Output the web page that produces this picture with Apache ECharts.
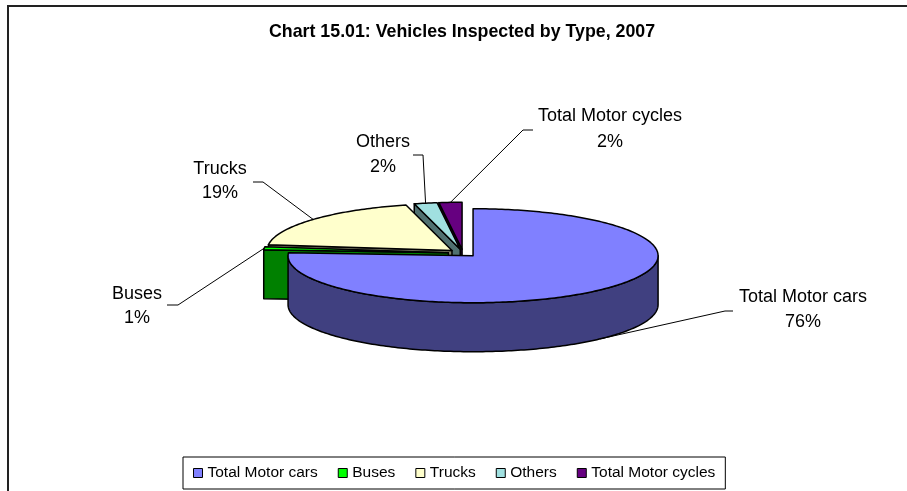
<!DOCTYPE html>
<html>
<head>
<meta charset="utf-8">
<script src="https://cdn.jsdelivr.net/npm/echarts@6/dist/echarts.min.js"></script>
<style>
html,body{margin:0;padding:0;background:#fff;}
#chart{width:907px;height:491px;}
</style>
</head>
<body>
<div id="chart"></div>
<script>
// ---- data ----
const CATEGORIES = ['Total Motor cars', 'Buses', 'Trucks', 'Others', 'Total Motor cycles'];
const VALUES = [76, 1, 19, 2, 2];
const TITLE = 'Chart 15.01: Vehicles Inspected by Type, 2007';

// ---- styles / layout ----
const TOP_COLORS = ['#8080FF', '#00FF00', '#FFFFCC', '#A0E0E0', '#660080'];
const SIDE_COLORS = ['#404080', '#008000', '#808066', '#507070', '#330040'];
const FONT = '"Liberation Sans", Arial, sans-serif';
const PIE = { cx: 463, cy: 253, rx: 185, ry: 47, depth: 49, explode: 14.7 };
const LABEL_LAYOUT = [
  { end: [733, 311], elbow: [725, 311], tx: 803, ty: [297, 322], h: 1 },
  { end: [167, 305], elbow: [178, 305], tx: 137, ty: [294, 318], h: 0 },
  { end: [253, 182], elbow: [263, 182], tx: 220, ty: [169, 193], h: 0 },
  { end: [413, 155], elbow: [423, 155], tx: 383, ty: [142, 167], h: 0 },
  { end: [533, 130], elbow: [523, 130], tx: 610, ty: [116, 142], h: 0 }
];

// ---- geometry derived from values ----
const total = VALUES.reduce((a, b) => a + b, 0);
const slices = [];
let acc = 0;
VALUES.forEach((v, i) => {
  const a0 = acc / total * 360;
  acc += v;
  const a1 = acc / total * 360;
  const mid = (a0 + a1) / 2;
  const rad = mid * Math.PI / 180;
  slices.push({
    a0, a1, mid,
    ox: PIE.explode * Math.sin(rad),
    oy: -PIE.explode * (PIE.ry / PIE.rx) * Math.cos(rad)
  });
});
function pt(i, deg, r, h) {
  const s = slices[i], t = deg * Math.PI / 180;
  return [PIE.cx + s.ox + r * PIE.rx * Math.sin(t),
          PIE.cy + s.oy - r * PIE.ry * Math.cos(t) + h * PIE.depth];
}
function arc(i, from, to, h) {
  const pts = [];
  const n = Math.max(2, Math.ceil(Math.abs(to - from)));
  for (let k = 0; k <= n; k++) pts.push(pt(i, from + (to - from) * k / n, 1, h));
  return pts;
}
function cosd(d) { return Math.cos(d * Math.PI / 180); }

function renderSlice(params, api) {
  const i = params.seriesIndex;
  const s = slices[i];
  const children = [];
  const stroke = { stroke: '#000', lineWidth: 1.5, lineJoin: 'round' };
  // radial cut faces that face the viewer
  [[s.a0, s.a0 - 90], [s.a1, s.a1 + 90]].forEach(([a, n]) => {
    if (cosd(n) < -0.01) {
      children.push({
        type: 'polygon', z2: 1,
        shape: { points: [pt(i, a, 0, 0), pt(i, a, 1, 0), pt(i, a, 1, 1), pt(i, a, 0, 1)] },
        style: Object.assign({ fill: SIDE_COLORS[i] }, stroke)
      });
    }
  });
  // outer front wall
  const lo = Math.max(s.a0, 90), hi = Math.min(s.a1, 270);
  if (hi > lo) {
    const pts = arc(i, lo, hi, 0).concat(arc(i, hi, lo, 1));
    children.push({
      type: 'polygon', z2: 2, shape: { points: pts },
      style: Object.assign({ fill: SIDE_COLORS[i] }, stroke)
    });
  }
  // top face
  children.push({
    type: 'polygon', z2: 3,
    shape: { points: [pt(i, s.a0, 0, 0)].concat(arc(i, s.a0, s.a1, 0)) },
    style: Object.assign({ fill: TOP_COLORS[i] }, stroke)
  });
  return { type: 'group', children };
}

function renderLabel(params, api) {
  const i = params.dataIndex;
  const L = LABEL_LAYOUT[i];
  const anchor = pt(i, slices[i].mid, 1, L.h);
  const pct = Math.round(api.value(0) / total * 100) + '%';
  return {
    type: 'group',
    children: [
      { type: 'polyline', z2: 10, shape: { points: [L.end, L.elbow, anchor] },
        style: { stroke: '#000', lineWidth: 1, fill: 'none' } },
      { type: 'text', z2: 10, style: { text: CATEGORIES[i], x: L.tx, y: L.ty[0], fill: '#000',
        font: '18px ' + FONT, align: 'center', verticalAlign: 'middle' } },
      { type: 'text', z2: 10, style: { text: pct, x: L.tx, y: L.ty[1], fill: '#000',
        font: '18px ' + FONT, align: 'center', verticalAlign: 'middle' } }
    ]
  };
}

// painter order: back slices first
const depthRank = slices.map((s, i) => i).sort((a, b) => cosd(slices[b].mid) - cosd(slices[a].mid));
const series = CATEGORIES.map((name, i) => ({
  type: 'custom',
  name,
  coordinateSystem: 'none',
  renderItem: renderSlice,
  itemStyle: { color: TOP_COLORS[i] },
  z: 2 + depthRank.indexOf(i),
  silent: true,
  animation: false,
  data: [[VALUES[i]]]
}));
series.push({
  type: 'custom',
  name: 'labels',
  coordinateSystem: 'none',
  renderItem: renderLabel,
  z: 20,
  silent: true,
  animation: false,
  data: VALUES.map(v => [v])
});

const chart = echarts.init(document.getElementById('chart'), null, { renderer: 'canvas' });
chart.setOption({
  backgroundColor: '#fff',
  animation: false,
  title: {
    text: TITLE, left: 269, top: 23, padding: 0,
    textStyle: { fontFamily: FONT, fontSize: 17.8, fontWeight: 'bold', color: '#000' }
  },
  legend: {
    data: CATEGORIES.map((n, i) => ({ name: n, itemStyle: { color: TOP_COLORS[i], borderColor: '#000', borderWidth: 1 } })),
    left: 183, top: 457,
    icon: 'rect', itemWidth: 9, itemHeight: 9, itemGap: 20,
    padding: [6, 10, 6, 10],
    borderColor: '#000', borderWidth: 1,
    selectedMode: false,
    textStyle: { fontFamily: FONT, fontSize: 15.5, color: '#000', lineHeight: 20 }
  },
  graphic: [{
    type: 'polyline', silent: true,
    shape: { points: [[8, 491], [8, 6], [907, 6]] },
    style: { stroke: '#222', lineWidth: 2, fill: 'none' }
  }],
  series
});
</script>
</body>
</html>
